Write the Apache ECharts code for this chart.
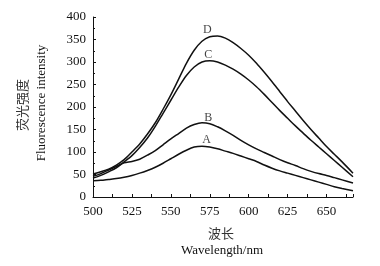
<!DOCTYPE html>
<html><head><meta charset="utf-8">
<script src="https://cdn.jsdelivr.net/npm/echarts@6/dist/echarts.min.js"></script>
<style>html,body{margin:0;padding:0;background:#fff}#c{width:380px;height:266px}</style>
</head><body><div id="c"></div>
<script>
const wavelengths = [500,505,510,515,520,525,530,535,540,545,550,555,560,565,570,575,580,585,590,595,600,605,610,615,620,625,630,635,640,645,650,655,660,667];
const seriesA = [36,37,39,41,44,48,53,59,66,75,85,95,104,111,113,111,107,102,97,91,85,79,71,64,58,53,48,43,38,33,28,23,19,14];
const seriesB = [46,52,60,68,76,79,84,93,103,116,129,141,153,161,165,163,156,147,137,126,116,107,99,91,83,76,70,63,57,52,48,43,38,31];
const seriesC = [42,48,56,65,78,92,110,131,157,186,215,244,270,289,300,303,300,293,284,273,260,245,228,210,192,175,158,142,126,111,96,81,66,45];
const seriesD = [51,56,62,71,83,100,118,140,165,195,227,262,297,326,346,356,358,353,343,330,315,297,277,256,234,212,191,170,150,131,112,95,78,53];
const curveNames = ['A','B','C','D'];
const labelPos = [[573,126],[574,176],[574,316],[573.5,372]];
const xTicks = [500,525,550,575,600,625,650];
const yTicks = [0,50,100,150,200,250,300,350,400];

const serif = 'Liberation Serif';
const cjk = 'Noto Sans CJK SC';
const zip = arr => wavelengths.map((x,i)=>[x,arr[i]]);
const all = [seriesA,seriesB,seriesC,seriesD];
const lineSeries = all.map((s,i)=>({
  type:'line', name:curveNames[i], data:zip(s), smooth:0.3, symbol:'none',
  lineStyle:{color:'#111',width:1.5}, silent:true
}));
lineSeries.push({
  type:'scatter', symbolSize:0, silent:true,
  data: labelPos.map((p,i)=>({value:p, name:curveNames[i]})),
  label:{show:true, position:'inside', formatter:p=>p.name, color:'#111', fontFamily:serif, fontSize:12}
});
const chart = echarts.init(document.getElementById('c'), null, {renderer:'canvas'});
chart.setOption({
  animation:false,
  backgroundColor:'#fff',
  grid:{left:93,right:27,top:17,bottom:69},
  xAxis:{type:'value',min:500,max:667,interval:25,
    axisLine:{lineStyle:{color:'#111',width:1}},
    axisTick:{inside:true,length:3,lineStyle:{color:'#111'}},
    minorTick:{show:true,splitNumber:2,length:3,lineStyle:{color:'#111'}},
    splitLine:{show:false},
    axisLabel:{color:'#111',fontFamily:serif,fontSize:13,margin:8,showMaxLabel:false,
      formatter:v=>xTicks.includes(v)?String(v):''}
  },
  yAxis:{type:'value',min:0,max:400,interval:50,
    axisLine:{show:true,lineStyle:{color:'#111',width:1}},
    axisTick:{show:true,inside:true,length:3,lineStyle:{color:'#111'}},
    minorTick:{show:true,splitNumber:2,length:2,lineStyle:{color:'#111'}},
    splitLine:{show:false},
    axisLabel:{color:'#111',fontFamily:serif,fontSize:13,margin:7,
      formatter:v=>yTicks.includes(v)?String(v):''}
  },
  graphic:[
    {type:'text',x:22,y:105,rotation:Math.PI/2,style:{text:'荧光强度',fill:'#333',font:'13px "'+cjk+'"',align:'center',verticalAlign:'middle'}},
    {type:'text',x:42,y:103,rotation:Math.PI/2,style:{text:'Fluorescence intensity',fill:'#111',font:'13px "'+serif+'"',align:'center',verticalAlign:'middle'}},
    {type:'text',x:221,y:233,style:{text:'波长',fill:'#333',font:'13px "'+cjk+'"',align:'center',verticalAlign:'middle'}},
    {type:'text',x:222,y:251,style:{text:'Wavelength/nm',fill:'#111',font:'13px "'+serif+'"',align:'center',verticalAlign:'middle'}}
  ],
  series:lineSeries
});
</script></body></html>
